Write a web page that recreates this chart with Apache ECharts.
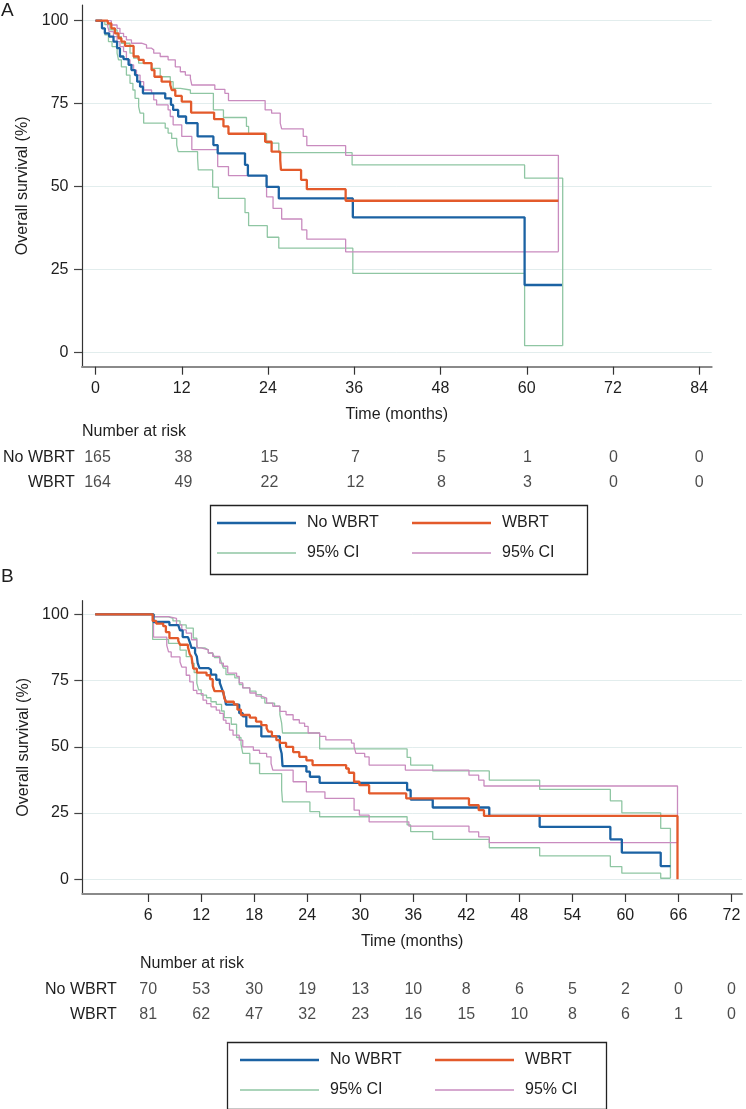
<!DOCTYPE html>
<html><head><meta charset="utf-8">
<script src="https://cdn.jsdelivr.net/npm/echarts@6/dist/echarts.min.js"></script>
<style>html,body{margin:0;padding:0;background:#fff}#c{width:746px;height:1109px}</style>
</head><body><div id="c"></div>
<script>
// ---------- Panel A data ----------
const A_noWBRT = [[0,100],[0.9,97.7],[1.3,96.2],[1.9,95.2],[2.5,93.7],[3.0,91.7],[3.4,89.2],[3.9,88.4],[4.6,86.7],[5.0,85.1],[5.5,83.6],[5.8,81.6],[6.2,80.1],[6.6,78.1],[9.7,76.6],[10.5,74.6],[10.8,73.1],[11.5,71.1],[12.6,69.1],[14.2,65.1],[16.4,62.5],[17.0,60.0],[20.8,56.5],[21.2,53.3],[23.8,49.9],[25.5,46.4],[35.8,40.7],[59.7,20.3],[64.9,20.3]];
const A_WBRT = [[0,100],[1.7,99.2],[2.2,97.7],[2.7,96.2],[3.2,94.7],[3.6,93.7],[4.1,92.4],[5.3,89.2],[6.0,88.2],[6.7,87.2],[7.8,85.1],[8.2,83.1],[9.2,81.6],[10.4,80.6],[10.6,79.1],[11.1,77.3],[12.0,75.6],[13.3,72.3],[16.5,70.3],[17.8,68.1],[18.5,65.9],[23.6,63.5],[24.5,60.5],[25.7,58.0],[25.8,55.0],[28.6,52.0],[29.4,49.2],[34.8,45.7],[64.4,45.7]];
const A_ciNo_upper = [[0,100],[0.9,99.6],[1.3,98.8],[2.0,97.2],[3.0,95.2],[3.6,93.2],[4.8,90.2],[5.3,88.7],[6.0,87.2],[7.8,85.6],[9.0,83.1],[10.4,81.6],[10.8,79.6],[11.8,79.1],[13.2,78.1],[16.4,73.1],[17.8,70.8],[21.0,68.1],[21.3,65.9],[23.8,63.1],[25.5,60.2],[35.7,56.5],[59.7,52.5],[65.0,52.5],[65.0,2.0]];
const A_ciNo_lower = [[0,100],[0.9,97.7],[1.3,95.7],[1.8,93.7],[2.3,92.2],[3.0,90.2],[3.2,88.2],[3.6,86.1],[4.3,83.6],[4.8,81.1],[5.2,79.1],[5.5,76.6],[6.0,74.1],[6.2,72.1],[6.7,69.1],[9.7,67.6],[10.1,66.1],[10.6,64.5],[11.3,62.5],[11.5,60.5],[14.2,58.5],[14.3,55.0],[16.3,49.8],[17.1,46.4],[20.8,42.1],[21.3,38.2],[23.9,34.7],[25.5,31.4],[35.8,23.8],[59.7,2.0],[65.0,2.0]];
const A_ciW_upper = [[0,100],[2.2,98.7],[3.0,97.7],[3.4,96.2],[3.9,95.2],[4.3,94.2],[5.0,93.2],[6.4,92.7],[7.1,91.7],[7.8,91.2],[8.1,90.2],[9.0,89.2],[10.1,88.2],[11.1,86.1],[11.8,84.6],[12.5,83.6],[13.2,82.6],[13.4,80.6],[16.6,79.3],[18.0,78.1],[18.5,75.9],[23.6,73.1],[24.5,72.1],[25.7,69.1],[25.9,67.4],[28.9,65.1],[29.4,62.3],[34.8,59.4],[64.4,59.4],[64.4,30.3]];
const A_ciW_lower = [[0,100],[1.7,98.2],[1.9,96.7],[2.5,95.2],[3.0,93.7],[3.4,92.2],[3.9,90.7],[4.3,88.2],[4.8,86.7],[5.3,85.1],[5.7,83.6],[6.2,81.6],[6.7,79.1],[7.8,78.1],[8.1,76.1],[8.5,74.6],[10.1,73.1],[10.4,71.1],[10.8,68.6],[12.0,65.1],[13.4,61.1],[17.0,56.0],[18.5,53.3],[23.8,46.9],[24.7,43.4],[25.9,40.2],[28.7,36.9],[29.4,34.1],[34.8,30.3],[64.4,30.3]];
const A_xTicks = [0,12,24,36,48,60,72,84];
const A_riskTimes = [0,12,24,36,48,60,72,84];
const A_riskNo = [165,38,15,7,5,1,0,0];
const A_riskW = [164,49,22,12,8,3,0,0];

// ---------- Panel B data ----------
const B_noWBRT = [[0,100],[6.6,97.1],[8.4,95.9],[9.4,95.2],[9.6,93.9],[9.9,91.4],[10.5,90.8],[10.7,89.5],[10.9,87.3],[11.3,85.4],[11.5,84.1],[11.6,81.6],[11.8,79.7],[12.8,79.1],[13.1,77.2],[13.7,75.3],[14.1,74.1],[14.3,72.2],[14.5,70.3],[14.7,67.8],[14.8,65.9],[16.3,62.7],[16.7,61.5],[17.1,57.7],[18.8,53.9],[20.9,50.1],[21.1,47.5],[21.2,42.7],[23.9,40.6],[24.3,38.7],[25.4,36.4],[35.3,33.7],[35.7,30.1],[38.2,27.1],[44.6,23.9],[50.3,19.8],[58.3,15.1],[59.6,10.1],[64.0,5.0],[65.1,5.0]];
const B_WBRT = [[0,100],[6.5,97.5],[6.9,96.5],[7.7,95.5],[8.0,93.3],[8.4,91.0],[9.4,90.0],[9.6,88.5],[10.5,87.5],[10.7,85.0],[10.9,84.0],[11.1,79.5],[11.5,78.0],[12.6,77.0],[13.0,75.5],[13.3,73.0],[13.5,71.0],[14.5,70.5],[14.6,68.5],[14.8,67.0],[15.7,66.0],[16.1,64.0],[16.5,62.0],[17.5,61.0],[18.2,59.5],[18.8,58.2],[19.4,57.0],[19.6,55.7],[20.0,54.0],[20.5,52.5],[20.9,51.5],[21.6,50.0],[22.4,48.0],[23.1,46.2],[23.9,44.9],[24.6,43.1],[28.4,41.8],[28.7,40.2],[29.3,36.8],[29.9,35.5],[31.0,32.4],[35.2,30.5],[42.3,28.0],[43.4,26.1],[44.0,23.9],[65.9,23.9],[65.9,0]];
const B_ciNo_upper = [[0,100],[6.7,99.0],[8.3,98.5],[8.8,97.5],[9.6,96.0],[10.3,94.8],[11.1,91.0],[11.5,88.5],[11.6,87.3],[12.4,86.6],[12.8,85.4],[13.3,84.7],[13.5,83.7],[14.1,83.5],[14.3,81.6],[14.5,79.7],[14.8,77.2],[15.8,76.0],[16.3,73.5],[16.7,72.2],[17.5,71.0],[18.2,69.7],[18.8,68.4],[19.2,66.5],[20.3,65.3],[20.9,62.1],[21.1,58.9],[21.2,55.2],[25.4,49.2],[35.3,46.0],[35.7,43.1],[38.2,40.9],[44.6,37.4],[50.3,33.9],[58.3,29.6],[59.6,25.1],[64.0,19.2],[65.1,19.2],[65.1,0.4]];
const B_ciNo_lower = [[0,100],[6.5,90.5],[8.3,89.0],[9.6,86.5],[10.3,84.0],[10.9,81.5],[11.2,78.0],[11.5,74.0],[11.7,71.5],[12.0,69.5],[12.6,68.5],[13.1,67.0],[13.7,66.0],[14.3,63.5],[14.6,61.0],[15.4,58.5],[16.0,53.5],[16.5,51.0],[16.7,47.5],[17.5,43.7],[18.6,39.9],[21.1,33.7],[21.2,29.2],[24.3,25.5],[25.4,23.6],[35.3,20.5],[35.7,18.0],[38.2,15.1],[44.6,11.9],[50.3,8.8],[58.3,4.8],[59.6,2.3],[64.0,0.4],[65.1,0.4]];
const B_ciW_upper = [[0,100],[6.6,99.1],[8.3,98.5],[9.2,96.0],[9.8,94.1],[10.3,92.9],[10.9,90.4],[11.5,87.3],[12.0,86.6],[12.8,85.4],[13.3,84.1],[14.1,81.6],[14.5,80.4],[15.0,77.8],[16.0,76.6],[16.3,74.1],[16.7,72.2],[17.5,70.3],[18.2,69.1],[18.8,68.4],[19.4,66.5],[20.1,65.3],[20.9,63.4],[21.6,62.1],[22.4,60.2],[23.1,58.9],[23.7,57.7],[24.1,55.2],[25.4,53.9],[26.1,52.6],[29.0,51.4],[29.3,50.0],[29.5,47.5],[30.5,46.2],[31.0,43.1],[35.1,41.2],[42.3,39.3],[43.4,37.4],[44.0,35.2],[65.9,35.2],[65.9,13.8]];
const B_ciW_lower = [[0,100],[6.6,91.4],[8.1,88.3],[8.3,85.8],[8.6,83.9],[9.6,82.0],[9.8,80.1],[10.3,77.0],[10.7,74.5],[11.1,71.3],[11.5,70.1],[12.2,67.6],[12.6,66.3],[13.1,65.1],[13.7,63.8],[14.1,62.6],[14.5,60.1],[14.8,58.8],[15.2,56.3],[15.6,54.4],[16.3,52.5],[16.7,50.0],[17.9,48.7],[18.6,47.5],[19.4,46.2],[19.9,43.7],[20.1,41.2],[22.4,36.8],[23.9,33.0],[26.0,30.5],[29.3,26.1],[29.9,24.2],[31.0,21.7],[35.5,20.1],[42.3,17.9],[43.4,16.0],[44.6,13.8],[65.9,13.8]];
const B_xTicks = [6,12,18,24,30,36,42,48,54,60,66,72];
const B_riskTimes = [6,12,18,24,30,36,42,48,54,60,66,72];
const B_riskNo = [70,53,30,19,13,10,8,6,5,2,0,0];
const B_riskW = [81,62,47,32,23,16,15,10,8,6,1,0];

const yTicks = [0,25,50,75,100];
const groups = ['No WBRT','WBRT'];

// ---------- styles ----------
const FONT = 'Liberation Sans, Arial, Helvetica, sans-serif';
const TXT = '#1e1e1e';
const BLUE = '#1b62a3', ORANGE = '#e35a2b', GREEN = '#8fc6a3', PINK = '#c98bbf';
const THICK = 'path://M0 0H100V3.2H0Z', THIN = 'path://M0 0H100V1.6H0Z';

function plotX(grid, min, max, ticks) {
  return {
    type:'value', gridIndex:grid, min:min, max:max,
    axisLine:{show:true, onZero:false, lineStyle:{color:'#8a8a8a', width:2}},
    axisTick:{show:true, length:8, customValues:ticks, lineStyle:{color:'#333', width:1.2}},
    axisLabel:{customValues:ticks, margin:14, fontSize:16, color:TXT, fontFamily:FONT},
    splitLine:{show:false},
    name:'Time (months)', nameLocation:'middle', nameGap:40,
    nameTextStyle:{fontSize:16, color:TXT, fontFamily:FONT}
  };
}
function plotY(grid, min, max) {
  return {
    type:'value', gridIndex:grid, min:min, max:max,
    axisLine:{show:true, onZero:false, lineStyle:{color:'#333', width:1.2}},
    axisTick:{show:true, length:8, customValues:yTicks, lineStyle:{color:'#444', width:1.2}},
    axisLabel:{customValues:yTicks, margin:13.5, fontSize:16, color:TXT, fontFamily:FONT},
    splitLine:{show:true, lineStyle:{color:'#e2eded', width:1}},
    name:'Overall survival (%)', nameLocation:'middle', nameGap:37, nameRotate:90,
    nameTextStyle:{fontSize:16, color:TXT, fontFamily:FONT}
  };
}
function hiddenX(grid, min, max) {
  return {type:'value', gridIndex:grid, min:min, max:max, show:false};
}
function tableY(grid) {
  return {type:'category', gridIndex:grid, data:groups, inverse:true,
    axisLine:{show:false}, axisTick:{show:false}, splitLine:{show:false},
    axisLabel:{margin:9.3, fontSize:16, color:TXT, fontFamily:FONT}};
}
function km(name, data, color, width, xi, z) {
  return {type:'line', name:name, data:data, step:'end', symbol:'none', showSymbol:false,
    xAxisIndex:xi, yAxisIndex:xi, z:z, lineStyle:{color:color, width:width}, itemStyle:{color:color},
    emphasis:{disabled:true}, silent:true};
}
function risk(times, counts, group, xi) {
  return {type:'scatter', xAxisIndex:xi, yAxisIndex:xi, symbolSize:1, silent:true,
    itemStyle:{color:'rgba(0,0,0,0)'},
    data: times.map((t,i)=>[t, group, counts[i]]),
    label:{show:true, position:'inside', formatter:p=>String(p.value[2]), fontSize:16, color:TXT, fontFamily:FONT}};
}
const legendNames = {
  'A_no':'No WBRT','A_w':'WBRT','A_cin':'95% CI','A_ciw':'95% CI',
  'B_no':'No WBRT','B_w':'WBRT','B_cin':'95% CI','B_ciw':'95% CI'
};
function legendItem(left, centerY, name, icon) {
  return {left:left, top:centerY-8, padding:0, itemWidth:79, itemHeight:16,
    orient:'horizontal', data:[{name:name, icon:icon}], selectedMode:false,
    formatter:n=>legendNames[n],
    textStyle:{fontSize:16, color:TXT, fontFamily:FONT, padding:[0,0,0,6]}};
}

const option = {
  animation:false,
  backgroundColor:'#fff',
  grid:[
    {left:82, top:5, width:629.7, height:361.7},
    {left:82, top:445.5, width:629.7, height:50},
    {left:82.3, top:600.7, width:659.7, height:293.3},
    {left:126, top:977.5, width:616, height:50}
  ],
  xAxis:[
    plotX(0, -1.88, 85.73, A_xTicks),
    hiddenX(1, -1.88, 85.73),
    plotX(2, -1.46, 73.2, B_xTicks),
    hiddenX(3, 3.486, 73.2)
  ],
  yAxis:[
    plotY(0, -4.34, 104.73),
    tableY(1),
    plotY(2, -5.55, 105.13),
    tableY(3)
  ],
  legend:[
    legendItem(217, 523, 'A_no', THICK),
    legendItem(412, 523, 'A_w', THICK),
    legendItem(217, 553, 'A_cin', THIN),
    legendItem(412, 553, 'A_ciw', THIN),
    legendItem(240, 1060, 'B_no', THICK),
    legendItem(435, 1060, 'B_w', THICK),
    legendItem(240, 1090, 'B_cin', THIN),
    legendItem(435, 1090, 'B_ciw', THIN)
  ],
  series:[
    km('A_cin', A_ciNo_upper, GREEN, 1.3, 0, 2),
    km('A_cin', A_ciNo_lower, GREEN, 1.3, 0, 2),
    km('A_ciw', A_ciW_upper, PINK, 1.3, 0, 2),
    km('A_ciw', A_ciW_lower, PINK, 1.3, 0, 2),
    km('A_no', A_noWBRT, BLUE, 2.3, 0, 3),
    km('A_w', A_WBRT, ORANGE, 2.3, 0, 4),
    risk(A_riskTimes, A_riskNo, 'No WBRT', 1),
    risk(A_riskTimes, A_riskW, 'WBRT', 1),
    km('B_cin', B_ciNo_upper, GREEN, 1.3, 2, 2),
    km('B_cin', B_ciNo_lower, GREEN, 1.3, 2, 2),
    km('B_ciw', B_ciW_upper, PINK, 1.3, 2, 2),
    km('B_ciw', B_ciW_lower, PINK, 1.3, 2, 2),
    km('B_no', B_noWBRT, BLUE, 2.3, 2, 3),
    km('B_w', B_WBRT, ORANGE, 2.3, 2, 4),
    risk(B_riskTimes, B_riskNo, 'No WBRT', 3),
    risk(B_riskTimes, B_riskW, 'WBRT', 3)
  ],
  graphic:[
    {type:'text', left:1, top:1, style:{text:'A', font:'19px '+FONT, fill:TXT}},
    {type:'text', left:1, top:567, style:{text:'B', font:'19px '+FONT, fill:TXT}},
    {type:'text', left:82, top:424, style:{text:'Number at risk', font:'16px '+FONT, fill:TXT}},
    {type:'text', left:140, top:956, style:{text:'Number at risk', font:'16px '+FONT, fill:TXT}},
    {type:'rect', left:208, top:503, shape:{width:377, height:69}, style:{fill:'none', stroke:'#222', lineWidth:1.3}},
    {type:'rect', left:225, top:1040, shape:{width:379, height:67}, style:{fill:'none', stroke:'#222', lineWidth:1.3}}
  ]
};
const chart = echarts.init(document.getElementById('c'));
chart.setOption(option);
</script></body></html>
